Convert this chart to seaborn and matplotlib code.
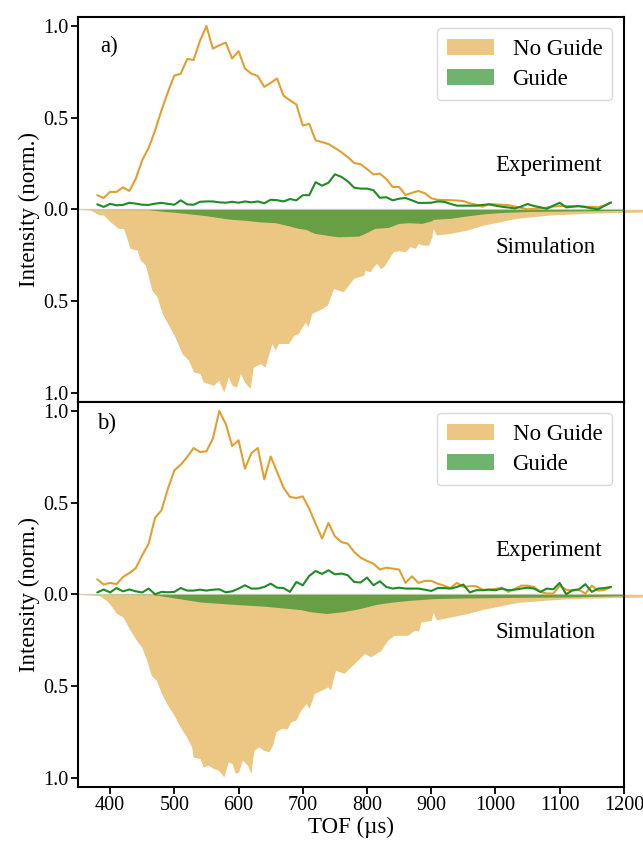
import numpy as np
import pandas as pd
import matplotlib
matplotlib.use("Agg")
import matplotlib.pyplot as plt
from matplotlib.patches import Patch
from matplotlib.ticker import FuncFormatter
import seaborn as sns

# ---------------- data ----------------
exp_time = list(range(380, 1190, 10))

exp_noguide_a = [0.077, 0.062, 0.095, 0.095, 0.12, 0.10, 0.167, 0.268, 0.335, 0.43,
                 0.54, 0.64, 0.73, 0.74, 0.82, 0.815, 0.92, 1.0, 0.877, 0.895,
                 0.91, 0.823, 0.863, 0.768, 0.74, 0.727, 0.668, 0.69, 0.714, 0.62,
                 0.595, 0.572, 0.457, 0.467, 0.376, 0.367, 0.356, 0.335, 0.312, 0.285,
                 0.253, 0.246, 0.22, 0.19, 0.195, 0.165, 0.122, 0.122, 0.078, 0.09,
                 0.1, 0.088, 0.06, 0.052, 0.051, 0.05, 0.048, 0.045, 0.033, 0.025,
                 0.014, 0.029, 0.027, 0.025, 0.023, 0.015, 0.008, 0.0, 0.003, 0.005,
                 0.01, 0.015, 0.018, 0.018, 0.018, 0.016, 0.014, 0.014, 0.011, 0.022,
                 0.036]
exp_guide_a = [0.027, 0.013, 0.03, 0.022, 0.024, 0.036, 0.031, 0.025, 0.024, 0.031,
               0.035, 0.03, 0.025, 0.049, 0.027, 0.025, 0.041, 0.043, 0.043, 0.038,
               0.036, 0.041, 0.036, 0.043, 0.038, 0.043, 0.033, 0.052, 0.05, 0.043,
               0.056, 0.049, 0.077, 0.077, 0.148, 0.129, 0.145, 0.191, 0.177, 0.153,
               0.118, 0.113, 0.113, 0.104, 0.063, 0.066, 0.049, 0.058, 0.062, 0.049,
               0.035, 0.035, 0.036, 0.043, 0.041, 0.03, 0.02, 0.02, 0.02, 0.02,
               0.024, 0.027, 0.02, 0.014, 0.01, 0.005, 0.015, 0.029, 0.018, 0.011,
               0.003, 0.02, 0.036, 0.011, 0.014, 0.018, 0.012, 0.005, 0.0, 0.02,
               0.038]
exp_noguide_b = [0.082, 0.053, 0.062, 0.055, 0.094, 0.116, 0.143, 0.213, 0.276, 0.418,
                 0.458, 0.576, 0.676, 0.707, 0.749, 0.798, 0.776, 0.78, 0.849, 1.0,
                 0.93, 0.809, 0.84, 0.685, 0.77, 0.798, 0.627, 0.752, 0.667, 0.582,
                 0.531, 0.525, 0.534, 0.467, 0.385, 0.304, 0.389, 0.316, 0.285, 0.276,
                 0.231, 0.2, 0.182, 0.167, 0.135, 0.145, 0.14, 0.135, 0.062, 0.098,
                 0.062, 0.073, 0.073, 0.058, 0.047, 0.034, 0.062, 0.04, 0.044, 0.044,
                 0.025, 0.025, 0.029, 0.036, 0.013, 0.029, 0.047, 0.047, 0.04, 0.013,
                 0.004, 0.004, 0.047, 0.025, 0.02, 0.024, 0.004, 0.047, 0.02, 0.024,
                 0.04]
exp_guide_b = [0.01, 0.026, 0.01, 0.034, 0.016, 0.026, 0.016, 0.01, 0.031, 0.0,
               0.013, 0.011, 0.013, 0.034, 0.02, 0.02, 0.025, 0.02, 0.025, 0.027,
               0.011, 0.016, 0.031, 0.049, 0.031, 0.031, 0.04, 0.058, 0.036, 0.034,
               0.013, 0.067, 0.049, 0.1, 0.127, 0.111, 0.131, 0.109, 0.113, 0.104,
               0.067, 0.064, 0.091, 0.049, 0.071, 0.04, 0.031, 0.036, 0.031, 0.031,
               0.031, 0.025, 0.018, 0.034, 0.034, 0.031, 0.04, 0.053, 0.01, 0.022,
               0.022, 0.025, 0.022, 0.031, 0.022, 0.025, 0.031, 0.036, 0.031, 0.013,
               0.031, 0.027, 0.062, 0.0, 0.022, 0.027, 0.055, 0.013, 0.031, 0.034,
               0.04]

sim_noguide_time_a = [350, 370, 382, 390, 400, 413, 421, 431, 442, 447, 455, 465, 473, 481,
                      491, 501, 512, 522, 530, 540, 545, 553, 561, 569, 577, 584, 590, 597,
                      603, 609, 618, 623, 634, 641, 652, 657, 662, 678, 686, 693, 699, 704,
                      708, 714, 730, 738, 743, 748, 756, 763, 771, 779, 787, 795, 797, 805,
                      810, 815, 821, 826, 834, 841, 849, 860, 867, 875, 880, 886, 896, 901,
                      903, 908, 930, 956, 981, 1007, 1033, 1059, 1085, 1111, 1137, 1163,
                      1183, 1232]
sim_noguide_a = [0.0, -0.005, -0.03, -0.031, -0.068, -0.104, -0.104, -0.213, -0.222, -0.277,
                 -0.304, -0.441, -0.477, -0.568, -0.632, -0.696, -0.787, -0.823, -0.887,
                 -0.896, -0.942, -0.951, -0.96, -0.933, -0.997, -0.915, -0.96, -0.97,
                 -0.896, -0.942, -0.978, -0.86, -0.842, -0.86, -0.732, -0.769, -0.732,
                 -0.732, -0.687, -0.678, -0.641, -0.614, -0.641, -0.568, -0.541, -0.523,
                 -0.477, -0.432, -0.441, -0.45, -0.414, -0.377, -0.368, -0.359, -0.332,
                 -0.341, -0.313, -0.295, -0.323, -0.313, -0.268, -0.231, -0.226, -0.231,
                 -0.204, -0.213, -0.186, -0.195, -0.195, -0.15, -0.104, -0.14, -0.131,
                 -0.113, -0.086, -0.068, -0.049, -0.04, -0.031, -0.027, -0.022, -0.02,
                 -0.018, -0.015]
sim_guide_time_a = [350, 460, 480, 500, 517, 550, 584, 610, 632, 657, 678, 693, 705, 718,
                    742, 755, 770, 787, 797, 812, 833, 849, 865, 885, 901, 903, 930, 956,
                    981, 1007, 1050, 1100, 1150, 1200]
sim_guide_a = [0.0, -0.002, -0.01, -0.016, -0.022, -0.035, -0.053, -0.06, -0.068, -0.073,
               -0.09, -0.104, -0.11, -0.131, -0.144, -0.15, -0.148, -0.146, -0.131, -0.104,
               -0.099, -0.077, -0.073, -0.077, -0.062, -0.055, -0.049, -0.036, -0.025,
               -0.018, -0.012, -0.01, -0.008, -0.006]

sim_noguide_time_b = [350, 383, 394, 400, 410, 420, 431, 441, 449, 457, 464, 472, 480, 488,
                      498, 509, 519, 527, 529, 540, 545, 553, 561, 569, 577, 584, 590, 595,
                      600, 606, 614, 619, 624, 632, 639, 647, 653, 658, 666, 676, 681, 689,
                      697, 705, 710, 718, 729, 739, 743, 751, 764, 780, 796, 806, 822, 832,
                      842, 863, 874, 880, 884, 900, 903, 908, 930, 956, 981, 1007, 1033,
                      1059, 1085, 1111, 1137, 1163, 1190, 1232]
sim_noguide_b = [0.0, -0.007, -0.033, -0.055, -0.105, -0.124, -0.196, -0.251, -0.287, -0.36,
                 -0.442, -0.469, -0.541, -0.596, -0.65, -0.723, -0.778, -0.833, -0.887,
                 -0.896, -0.942, -0.933, -0.951, -0.96, -0.996, -0.914, -0.924, -0.978,
                 -0.969, -0.905, -0.933, -0.978, -0.851, -0.833, -0.851, -0.86, -0.824,
                 -0.751, -0.733, -0.733, -0.696, -0.687, -0.632, -0.596, -0.623, -0.541,
                 -0.523, -0.505, -0.523, -0.414, -0.432, -0.378, -0.323, -0.341, -0.305,
                 -0.251, -0.224, -0.224, -0.196, -0.2, -0.151, -0.142, -0.098, -0.14,
                 -0.124, -0.105, -0.082, -0.064, -0.045, -0.038, -0.031, -0.025, -0.022,
                 -0.02, -0.018, -0.015]
sim_guide_time_b = [350, 467, 500, 540, 592, 643, 697, 711, 737, 763, 789, 815, 841, 867,
                    903, 956, 1007, 1059, 1111, 1150, 1200]
sim_guide_b = [0.0, -0.002, -0.02, -0.042, -0.055, -0.066, -0.084, -0.095, -0.105, -0.095,
               -0.078, -0.055, -0.042, -0.033, -0.024, -0.02, -0.018, -0.016, -0.015,
               -0.012, -0.008]

series_labels = ["No Guide", "Guide"]
panel_labels = ["a)", "b)"]
yticks = [-1.0, -0.5, 0.0, 0.5, 1.0]
xticks = [400, 500, 600, 700, 800, 900, 1000, 1100, 1200]

# ---------------- style ----------------
sns.set_theme(style="ticks")
plt.rcParams["font.family"] = ["Liberation Serif", "DejaVu Serif"]
plt.rcParams["font.size"] = 16.5
plt.rcParams["text.color"] = "black"
plt.rcParams["axes.labelcolor"] = "black"
plt.rcParams["xtick.color"] = "black"
plt.rcParams["ytick.color"] = "black"

TICK_FS = 14.5
TEXT_FS = 16.5

ORANGE = "#E0A030"
GREEN_LINE = "#1E8C22"
GREEN_FILL = "#228B22"
ORANGE_ALPHA = 0.6
GREEN_ALPHA = 0.65

fig = plt.figure(figsize=(6.43, 8.44), dpi=100)
ax_a = fig.add_axes([0.1213, 0.524, 0.849, 0.456])
ax_b = fig.add_axes([0.1213, 0.0679, 0.849, 0.456], sharex=ax_a)

panels = [
    (ax_a, exp_noguide_a, exp_guide_a, sim_noguide_time_a, sim_noguide_a,
     sim_guide_time_a, sim_guide_a, panel_labels[0], (0.04, 0.924)),
    (ax_b, exp_noguide_b, exp_guide_b, sim_noguide_time_b, sim_noguide_b,
     sim_guide_time_b, sim_guide_b, panel_labels[1], (0.034, 0.945)),
]

for ax, eng, eg, snt, sn, sgt, sg, plab, ppos in panels:
    ax.axhline(0, color="#d8d8d8", lw=1.0, zorder=1)
    ax.fill_between(snt, 0, sn, color=ORANGE, alpha=ORANGE_ALPHA, lw=0,
                    zorder=2, clip_on=False)
    ax.fill_between(sgt, 0, sg, color=GREEN_FILL, alpha=GREEN_ALPHA, lw=0, zorder=3)
    df = pd.DataFrame({"t": exp_time, "ng": eng, "g": eg})
    sns.lineplot(data=df, x="t", y="ng", ax=ax, color=ORANGE, lw=1.5, zorder=4)
    sns.lineplot(data=df, x="t", y="g", ax=ax, color=GREEN_LINE, lw=1.5, zorder=5)

    ax.set_xlim(350, 1200)
    ax.set_ylim(-1.05, 1.05)
    ax.set_yticks(yticks)
    ax.yaxis.set_major_formatter(FuncFormatter(lambda v, p: f"{abs(v):.1f}"))
    ax.set_ylabel("Intensity (norm.)", fontsize=TEXT_FS, labelpad=2, color="black")
    ax.set_xlabel("")
    for s in ax.spines.values():
        s.set_linewidth(1.5)
        s.set_color("black")
    ax.tick_params(axis="both", direction="out", length=5, width=1.3,
                   labelsize=TICK_FS, colors="black", pad=2)

    ax.text(ppos[0], ppos[1], plab, transform=ax.transAxes, fontsize=TEXT_FS,
            ha="left", va="center", color="black")
    ax.text(1000, 0.24, "Experiment", fontsize=TEXT_FS, ha="left", va="center",
            color="black")
    ax.text(1000, -0.21, "Simulation", fontsize=TEXT_FS, ha="left", va="center",
            color="black")

    handles = [Patch(facecolor=ORANGE, alpha=ORANGE_ALPHA, edgecolor="none"),
               Patch(facecolor=GREEN_FILL, alpha=GREEN_ALPHA, edgecolor="none")]
    leg = ax.legend(handles, series_labels, loc="upper right", fontsize=TEXT_FS,
                    frameon=True, fancybox=True, handlelength=2.05,
                    handleheight=0.7, handletextpad=0.8, borderaxespad=0.5,
                    borderpad=0.45, labelspacing=0.4, labelcolor="black")
    leg.get_frame().set_edgecolor("#d0d0d0")
    leg.get_frame().set_linewidth(1.0)

ax_a.tick_params(axis="x", bottom=False, labelbottom=False)
ax_b.set_xticks(xticks)
ax_b.set_xlabel("TOF (µs)", fontsize=TEXT_FS, labelpad=1, color="black")

fig.savefig("out.png", dpi=100)
